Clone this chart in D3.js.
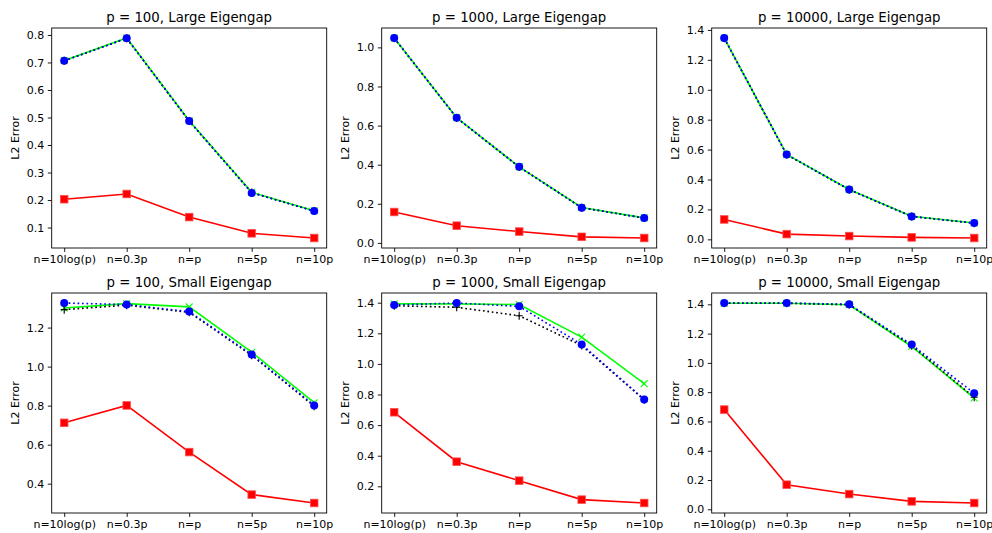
<!DOCTYPE html>
<html>
<head>
<meta charset="utf-8">
<script src="https://cdn.jsdelivr.net/npm/d3@7"></script>
<style>
    body { margin: 0; background: #fff; }
    text { font-family: "DejaVu Sans", sans-serif; fill: #000; }
    .tick line { stroke: #000; stroke-width: 0.9; }
    .tick text { font-size: 11px; }
</style>
</head>
<body>
<div id="chart"></div>
<script>
// Category labels on the x axis
var categories = ["n=10log(p)", "n=0.3p", "n=p", "n=5p", "n=10p"];

// Panel titles (row by row)
var titles = [
    "p = 100, Large Eigengap", "p = 1000, Large Eigengap", "p = 10000, Large Eigengap",
    "p = 100, Small Eigengap", "p = 1000, Small Eigengap", "p = 10000, Small Eigengap"
];

// Series values
var redValues = [
    [0.203, 0.222, 0.138, 0.079, 0.062],
    [0.158, 0.088, 0.058, 0.031, 0.025],
    [0.133, 0.035, 0.022, 0.013, 0.009],
    [0.712, 0.801, 0.562, 0.344, 0.301],
    [0.684, 0.361, 0.237, 0.113, 0.091],
    [0.681, 0.168, 0.104, 0.054, 0.043]
];
var greenValues = [
    [0.707, 0.789, 0.488, 0.228, 0.161],
    [1.048, 0.640, 0.389, 0.181, 0.128],
    [1.346, 0.567, 0.333, 0.154, 0.109],
    [1.300, 1.323, 1.306, 1.074, 0.815],
    [1.392, 1.392, 1.388, 1.175, 0.871],
    [1.407, 1.407, 1.397, 1.112, 0.760]
];
var blackValues = [
    [0.706, 0.788, 0.487, 0.227, 0.160],
    [1.047, 0.639, 0.388, 0.180, 0.127],
    [1.345, 0.566, 0.332, 0.153, 0.108],
    [1.292, 1.315, 1.278, 1.058, 0.797],
    [1.380, 1.370, 1.315, 1.120, 0.765],
    [1.407, 1.407, 1.397, 1.117, 0.765]
];
var blueValues = [
    [0.706, 0.788, 0.487, 0.226, 0.160],
    [1.048, 0.640, 0.389, 0.180, 0.127],
    [1.346, 0.567, 0.333, 0.153, 0.109],
    [1.326, 1.318, 1.282, 1.062, 0.801],
    [1.385, 1.398, 1.376, 1.127, 0.768],
    [1.409, 1.409, 1.400, 1.125, 0.792]
];

// Y tick values for each panel
var yTicks = [
    [0.1, 0.2, 0.3, 0.4, 0.5, 0.6, 0.7, 0.8],
    [0.0, 0.2, 0.4, 0.6, 0.8, 1.0],
    [0.0, 0.2, 0.4, 0.6, 0.8, 1.0, 1.2, 1.4],
    [0.4, 0.6, 0.8, 1.0, 1.2],
    [0.2, 0.4, 0.6, 0.8, 1.0, 1.2, 1.4],
    [0.0, 0.2, 0.4, 0.6, 0.8, 1.0, 1.2, 1.4]
];

// Figure and axes geometry
var svgWidth = 992;
var svgHeight = 533;
var axLefts = [51.7, 381.7, 711.7];
var axTops = [28, 293];
var axWidth = 275;
var axHeight = 220;
var tickLen = 3.9;

var svg = d3.select("#chart")
    .append("svg")
    .attr("width", svgWidth)
    .attr("height", svgHeight);

titles.forEach(function (title, i) {
    var row = Math.floor(i / 3);
    var col = i % 3;

    var g = svg.append("g")
        .attr("transform", `translate(${axLefts[col]}, ${axTops[row]})`);

    var series = [
        { values: redValues[i], color: "#ff0000", dash: null, marker: "square" },
        { values: greenValues[i], color: "#00ff00", dash: null, marker: "x" },
        { values: blackValues[i], color: "#000000", dash: "1.7,2.75", marker: "plus" },
        { values: blueValues[i], color: "#0000ff", dash: "1.7,2.75", marker: "circle" }
    ];

    // x scale with matplotlib-like 5% margins
    var xScale = d3.scaleLinear()
        .domain([-0.2, categories.length - 1 + 0.2])
        .range([0, axWidth]);

    // y scale from all values with 5% margins
    var all = d3.merge(series.map(s => s.values));
    var yMin = d3.min(all), yMax = d3.max(all);
    var pad = (yMax - yMin) * 0.05;
    var yScale = d3.scaleLinear()
        .domain([yMin - pad, yMax + pad])
        .range([axHeight, 0]);

    // Axes
    var bottomAxis = d3.axisBottom(xScale)
        .tickValues(d3.range(categories.length))
        .tickFormat(d => categories[d])
        .tickSizeInner(tickLen)
        .tickSizeOuter(0)
        .tickPadding(3.6);
    var leftAxis = d3.axisLeft(yScale)
        .tickValues(yTicks[i])
        .tickFormat(d3.format(".1f"))
        .tickSizeInner(tickLen)
        .tickSizeOuter(0)
        .tickPadding(3.6);

    g.append("g")
        .attr("transform", `translate(0, ${axHeight})`)
        .call(bottomAxis)
        .call(a => a.select(".domain").remove())
        .selectAll("text").attr("fill", "#000");

    g.append("g")
        .call(leftAxis)
        .call(a => a.select(".domain").remove())
        .selectAll("text").attr("fill", "#000");

    g.selectAll(".tick text").attr("font-family", null).attr("font-size", null);

    // Lines and markers
    var line = d3.line()
        .x((d, j) => xScale(j))
        .y(d => yScale(d));

    series.forEach(function (s) {
        g.append("path")
            .datum(s.values)
            .attr("d", line)
            .attr("fill", "none")
            .attr("stroke", s.color)
            .attr("stroke-width", 1.6)
            .attr("stroke-dasharray", s.dash);

        var pts = g.append("g").selectAll("g")
            .data(s.values)
            .enter()
            .append("g")
            .attr("transform", (d, j) => `translate(${xScale(j)}, ${yScale(d)})`);

        if (s.marker === "square") {
            pts.append("rect")
                .attr("x", -3.8).attr("y", -3.8)
                .attr("width", 7.6).attr("height", 7.6)
                .attr("fill", s.color)
                .attr("stroke", "#ff5050")
                .attr("stroke-width", 0.8);
        } else if (s.marker === "circle") {
            pts.append("circle")
                .attr("r", 4)
                .attr("fill", s.color);
        } else if (s.marker === "x") {
            pts.append("path")
                .attr("d", "M-3.4,-3.4L3.4,3.4M-3.4,3.4L3.4,-3.4")
                .attr("stroke", s.color)
                .attr("stroke-width", 1.1);
        } else {
            pts.append("path")
                .attr("d", "M0,-4L0,4M-3.5,0L3.5,0")
                .attr("stroke", s.color)
                .attr("stroke-width", 1.1);
        }
    });

    // Spines
    g.append("rect")
        .attr("width", axWidth)
        .attr("height", axHeight)
        .attr("fill", "none")
        .attr("stroke", "#000")
        .attr("stroke-width", 0.9);

    // Title
    g.append("text")
        .attr("x", axWidth / 2)
        .attr("y", -6.5)
        .attr("text-anchor", "middle")
        .style("font-size", "13.3px")
        .text(title);

    // Y label
    g.append("text")
        .attr("transform", `translate(-33, ${axHeight / 2}) rotate(-90)`)
        .attr("text-anchor", "middle")
        .style("font-size", "11px")
        .text("L2 Error");
});
</script>
</body>
</html>
